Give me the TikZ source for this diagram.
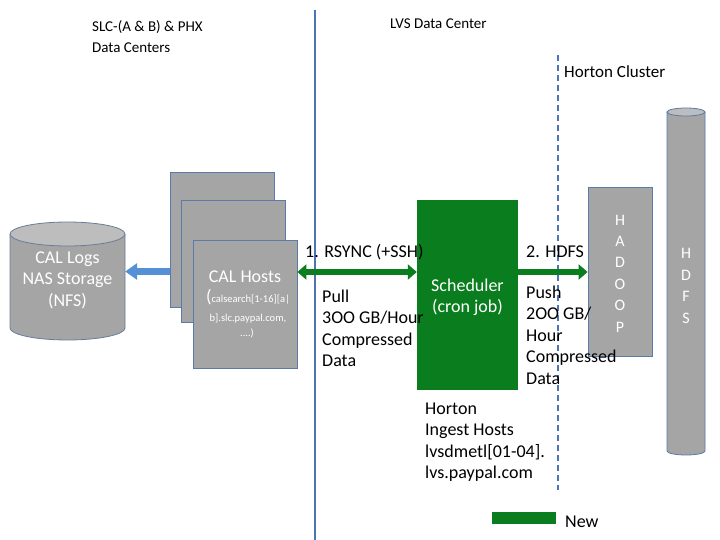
\documentclass[tikz,border=0pt]{standalone}
\usepackage{fontspec}
\setmainfont{Carlito}
\usetikzlibrary{arrows.meta}
\definecolor{boxgray}{HTML}{A5A5A5}
\definecolor{topgray}{HTML}{BDBDBD}
\definecolor{edgeblue}{HTML}{5A7BAA}
\definecolor{newgreen}{HTML}{0A7D1E}
\definecolor{lineblue}{HTML}{4A74B5}
\definecolor{arrowblue}{HTML}{5590D6}
\begin{document}
\begin{tikzpicture}[x=1pt,y=-1pt,
  hostbox/.style={draw=edgeblue, line width=0.8pt, fill=boxgray, inner sep=0pt},
  txt/.style={font=\fontsize{18}{21.5}\selectfont, inner sep=0pt},
  hdr/.style={font=\fontsize{15}{21}\selectfont, inner sep=0pt},
  small/.style={font=\fontsize{10.5}{13}\selectfont, inner sep=0pt, text=white},
  greenarrow/.style={draw=newgreen, line width=5.5pt},
  cyledge/.style={draw=edgeblue!60!gray, line width=0.8pt}
]
\useasboundingbox (0,0) rectangle (720,540);
\fill[white] (0,0) rectangle (720,540);

% separators
\draw[lineblue, line width=1.8pt] (315,10) -- (315,540);
\draw[lineblue, line width=1.5pt, dash pattern=on 6pt off 4pt] (558,55) -- (558,490);

% headers
\node[hdr, anchor=north west, align=left] (hslc) at (92,16.3) {\strut SLC-(A \& B) \& PHX\\Data Centers};
\node[hdr, anchor=base west] (hlvs) at (390,29) {LVS Data Center};
\node[font=\fontsize{17}{21}\selectfont, inner sep=0pt, anchor=base west] (hhorton) at (564,77.5) {Horton Cluster};

% NAS cylinder
\fill[boxgray] (10,234) -- (10,328) arc[start angle=180,end angle=0,x radius=57.5,y radius=12] -- (125,234) -- cycle;
\draw[cyledge] (10,234) -- (10,328) arc[start angle=180,end angle=0,x radius=57.5,y radius=12] -- (125,234);
\filldraw[cyledge, fill=topgray] (67.5,234) ellipse[x radius=57.5, y radius=12];
\node[inner sep=0pt, minimum width=115, minimum height=118] (nas) at (67.5,281) {};
\node[txt, text=white, align=center] (nastext) at (67.5,280) {CAL Logs\\NAS Storage\\(NFS)};

% host stack
\node[hostbox, minimum width=104, minimum height=135] (h1) at (222,239.5) {};
\node[hostbox, minimum width=104, minimum height=122] (h2) at (233,261) {};
\node[hostbox, minimum width=104, minimum height=128] (h3) at (245,304) {};
\node[txt, text=white] (hosttitle) at (245,277) {CAL Hosts};
\node[small, anchor=base] (hostsub1) at (248,302) {{\fontsize{18}{20}\selectfont(}calsearch[1-16][a|};
\node[small, anchor=base] (hostsub2) at (248,321) {b].slc.paypal.com,};
\node[small, anchor=base] (hostsub3) at (247,336) {....)};

% blue arrow hosts -> NAS
\draw[arrowblue, line width=6.5pt, -{Triangle[length=12pt,width=16pt]}] (h1.west |- 0,271.5) -- (nas.east |- 0,271.5);

% scheduler
\node[fill=newgreen, inner sep=0pt, minimum width=101, minimum height=190] (sched) at (467.5,295) {};
\node[txt, text=white, align=center] (schedtext) at (467.5,297.5) {Scheduler\\(cron job)};

% hadoop
\node[hostbox, minimum width=64, minimum height=169] (hadoop) at (620,271.5) {};
\node[font=\fontsize{16}{21.4}\selectfont, text=white, align=center, inner sep=0pt] (hadooptext) at (620,273.5) {H\\A\\D\\O\\O\\P};

% HDFS cylinder
\fill[boxgray] (667,112) -- (667,451) arc[start angle=180,end angle=0,x radius=19,y radius=4] -- (705,112) -- cycle;
\draw[cyledge, draw=edgeblue] (667,112) -- (667,451) arc[start angle=180,end angle=0,x radius=19,y radius=4] -- (705,112);
\filldraw[cyledge, draw=edgeblue, fill=topgray] (686,112) ellipse[x radius=19, y radius=4];
\node[inner sep=0pt, minimum width=38, minimum height=347] (hdfs) at (686,281.5) {};
\node[font=\fontsize{16}{21.5}\selectfont, text=white, align=center, inner sep=0pt] (hdfstext) at (686,286) {H\\D\\F\\S};

% green arrows
\draw[greenarrow, {Triangle[length=9pt,width=15pt]}-{Triangle[length=9pt,width=15pt]}] (sched.west |- 0,272) -- (h3.east |- 0,272);
\draw[greenarrow, -{Triangle[length=9pt,width=15pt]}] (sched.east |- 0,272) -- (hadoop.west |- 0,272);

% labels
\node[txt, anchor=base west] (rsync) at (305,258) {1. RSYNC (+SSH)};
\node[txt, anchor=base west] (hdfslbl) at (526,258) {2. HDFS};
\node[txt, anchor=north west, align=left] (pull) at (322,287) {\strut Pull\\3OO GB/Hour\\Compressed\\Data};
\node[txt, anchor=north west, align=left] (push) at (526,283) {\strut Push\\2OO GB/\\Hour\\Compressed\\Data};
\node[txt, anchor=north west, align=left] (ingest) at (425,399) {\strut Horton\\Ingest Hosts\\lvsdmetl[01-04].\\lvs.paypal.com};

% legend
\node[fill=newgreen, inner sep=0pt, minimum width=64, minimum height=12] (legbox) at (524,518) {};
\node[txt, anchor=base west] (legtext) at (565,527) {New};
\end{tikzpicture}
\end{document}
